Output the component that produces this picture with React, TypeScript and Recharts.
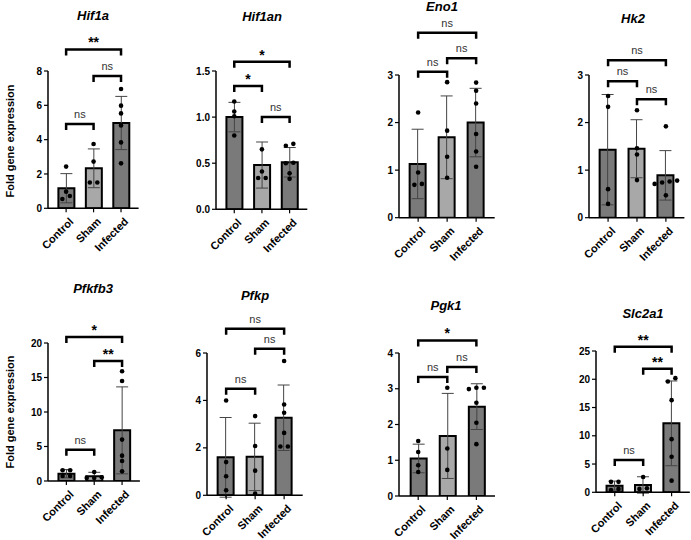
import React from "react";
import { Bar, Cell, ComposedChart, ErrorBar, ReferenceLine, Scatter, XAxis, YAxis } from "recharts";

const GROUPS = ["Control", "Sham", "Infected"];
const GENES = ["Hif1a", "Hif1an", "Eno1", "Hk2", "Pfkfb3", "Pfkp", "Pgk1", "Slc2a1"];

// mean per group (Control, Sham, Infected)
const MEANS = [
  [1.17, 2.33, 4.97],
  [1.0, 0.48, 0.51],
  [1.13, 1.69, 2.0],
  [1.43, 1.45, 0.89],
  [1.06, 0.68, 7.34],
  [1.6, 1.62, 3.27],
  [1.05, 1.68, 2.5],
  [1.18, 1.3, 12.2],
];

// standard deviation per group
const SDS = [
  [0.85, 1.13, 1.55],
  [0.16, 0.25, 0.16],
  [0.73, 0.87, 0.72],
  [1.16, 0.61, 0.52],
  [0.6, 0.58, 6.3],
  [1.68, 1.42, 1.38],
  [0.4, 1.19, 0.64],
  [0.8, 1.45, 7.5],
];

// individual samples
const POINTS = [
  [[2.43, 0.97, 0.72, 0.54], [3.75, 2.72, 1.5, 1.5], [6.95, 5.98, 5.53, 4.83, 3.84, 2.62]],
  [[1.17, 1.06, 1.01, 0.8], [0.65, 0.41, 0.34, 0.34], [0.71, 0.69, 0.505, 0.5, 0.39, 0.33]],
  [[2.21, 0.95, 0.71, 0.69], [2.85, 1.83, 1.28, 0.84], [2.84, 2.67, 2.4, 1.76, 1.39, 1.07]],
  [[2.56, 2.33, 0.6, 0.29], [2.26, 1.46, 1.33, 0.79], [1.92, 0.78, 0.76, 0.74, 0.71, 0.47]],
  [[1.55, 1.55, 0.72, 0.72], [1.3, 0.55, 0.45, 0.45], [15.9, 14.5, 6.0, 3.67, 2.9, 1.4]],
  [[4.0, 1.4, 0.8, 0.21], [3.34, 2.08, 1.04, 0.07], [5.66, 3.83, 3.48, 2.63, 2.06, 2.06]],
  [[1.54, 1.23, 0.86, 0.67], [3.03, 1.33, 0.73], [3.03, 3.03, 2.99, 2.61, 2.05, 1.45]],
  [[1.85, 1.85, 0.6, 0.4], [2.7, 0.7, 0.6], [20.2, 19.6, 16.3, 9.4, 6.3, 2.06]],
];

// significance brackets: [from group, to group, height, label]
const BRACKETS: [number, number, number, string][][] = [
  [[0, 2, 9.26, "**"], [1, 2, 7.71, "ns"], [0, 1, 4.91, "ns"]],
  [[0, 2, 1.6, "*"], [0, 1, 1.336, "*"], [1, 2, 1.0, "ns"]],
  [[0, 2, 3.89, "ns"], [1, 2, 3.35, "ns"], [0, 1, 3.07, "ns"]],
  [[0, 2, 3.31, "ns"], [0, 1, 2.87, "ns"], [1, 2, 2.49, "ns"]],
  [[0, 2, 20.87, "*"], [1, 2, 17.39, "**"], [0, 1, 4.54, "ns"]],
  [[0, 2, 7.02, "ns"], [1, 2, 6.18, "ns"], [0, 1, 4.49, "ns"]],
  [[0, 2, 4.35, "*"], [1, 2, 3.61, "ns"], [0, 1, 3.33, "ns"]],
  [[0, 2, 25.77, "**"], [1, 2, 21.87, "**"], [0, 1, 5.72, "ns"]],
];

const Y_TICKS = [
  [0, 2, 4, 6, 8],
  [0, 0.5, 1, 1.5],
  [0, 1, 2, 3],
  [0, 1, 2, 3],
  [0, 5, 10, 15, 20],
  [0, 2, 4, 6],
  [0, 1, 2, 3, 4],
  [0, 5, 10, 15, 20, 25],
];

// page placement of each panel's plot area
const LAYOUT = [
  { axisX: 47.7, yTop: 71, yBot: 208.3, end: 138.3, titleX: 93, titleY: 15 },
  { axisX: 215.7, yTop: 71, yBot: 209.3, end: 307, titleX: 262, titleY: 16 },
  { axisX: 399, yTop: 75, yBot: 217.7, end: 494.7, titleX: 442, titleY: 6 },
  { axisX: 589, yTop: 75, yBot: 217.7, end: 684.4, titleX: 633, titleY: 18 },
  { axisX: 47.7, yTop: 342.7, yBot: 480.7, end: 139.6, titleX: 93, titleY: 288 },
  { axisX: 206.7, yTop: 352.7, yBot: 495, end: 302.4, titleX: 255, titleY: 295 },
  { axisX: 399, yTop: 352.7, yBot: 495.7, end: 495, titleX: 446, titleY: 305 },
  { axisX: 595.7, yTop: 351, yBot: 492.3, end: 689.5, titleX: 643, titleY: 313 },
];

const BAR_COLORS = ["#7a7a7a", "#a8a8a8", "#7a7a7a"];
const X_DOMAIN: [number, number] = [-0.66, 2.64];
const FONT = "'Liberation Sans', Arial, sans-serif";
const YW = 30;
const MT = 70;
const MR = 4;
const XH = 56;

// simple beeswarm: samples closer than rowTol px share a row and spread sideways
function swarm(values: number[], unitY: number, gap = 7.5, rowTol = 4.5) {
  const sorted = [...values].sort((a, b) => a - b);
  const rows: number[][] = [];
  for (const v of sorted) {
    const row = rows[rows.length - 1];
    if (row && (v - row[0]) * unitY < rowTol) row.push(v);
    else rows.push([v]);
  }
  return rows.flatMap((row) => row.map((v, i) => ({ v, off: (i - (row.length - 1) / 2) * gap })));
}

function CatTick(props: any) {
  const { x, y, payload } = props;
  const tx = x + 8;
  const ty = y + 8;
  return (
    <text
      x={tx}
      y={ty}
      transform={`rotate(-45, ${tx}, ${ty})`}
      textAnchor="end"
      fontFamily={FONT}
      fontSize={11}
      fontWeight={700}
      fill="#000"
    >
      {GROUPS[payload.value]}
    </text>
  );
}

function Dot(props: any) {
  return <circle cx={props.cx} cy={props.cy} r={2.3} fill="#000" />;
}

function Bracket(props: any) {
  const { x1, y1, x2, y2 } = props;
  return (
    <path
      d={`M${x1},${y1 + 6}V${y1}H${x2}V${y2 + 6}`}
      fill="none"
      stroke="#000"
      strokeWidth={2.5}
    />
  );
}

function GenePanel({ idx }: { idx: number }) {
  const L = LAYOUT[idx];
  const plotW = L.end - L.axisX;
  const plotH = L.yBot - L.yTop;
  const ticks = Y_TICKS[idx];
  const yMax = ticks[ticks.length - 1];
  const unitX = plotW / (X_DOMAIN[1] - X_DOMAIN[0]);
  const unitY = plotH / yMax;
  const decimals = ticks.some((t) => !Number.isInteger(t)) ? 1 : 0;

  const bars = GROUPS.map((g, i) => ({ x: i, group: g, mean: MEANS[idx][i], sd: SDS[idx][i] }));
  const dots = GROUPS.flatMap((g, i) =>
    swarm(POINTS[idx][i], unitY).map((d) => ({ px: i + d.off / unitX, y: d.v })),
  );

  return (
    <div style={{ position: "absolute", left: L.axisX - YW, top: L.yTop - MT }}>
      <ComposedChart
        width={YW + plotW + MR}
        height={MT + plotH + XH}
        data={bars}
        margin={{ top: MT, right: MR, bottom: 0, left: 0 }}
      >
        <XAxis
          dataKey="x"
          type="number"
          domain={X_DOMAIN}
          ticks={[0, 1, 2]}
          allowDataOverflow
          height={XH}
          tickSize={4}
          tick={<CatTick />}
          axisLine={{ stroke: "#000", strokeWidth: 1.5 }}
          tickLine={{ stroke: "#000", strokeWidth: 1.2 }}
        />
        <XAxis xAxisId="pts" dataKey="px" type="number" domain={X_DOMAIN} allowDataOverflow hide />
        <YAxis
          type="number"
          domain={[0, yMax]}
          ticks={ticks}
          allowDataOverflow
          width={YW}
          tickSize={4}
          tickFormatter={(v: number) => v.toFixed(decimals)}
          tick={{ fill: "#000", fontSize: 10, fontWeight: 700, fontFamily: FONT }}
          axisLine={{ stroke: "#000", strokeWidth: 1.5 }}
          tickLine={{ stroke: "#000", strokeWidth: 1.2 }}
        />
        <Bar dataKey="mean" barSize={16} stroke="#000" strokeWidth={2} isAnimationActive={false}>
          {bars.map((b, i) => (
            <Cell key={b.group} fill={BAR_COLORS[i]} />
          ))}
          <ErrorBar dataKey="sd" direction="y" width={6} stroke="#444" strokeWidth={1} />
        </Bar>
        <Scatter xAxisId="pts" data={dots} dataKey="y" shape={<Dot />} isAnimationActive={false} />
        {BRACKETS[idx].map(([a, b, h, txt]) => {
          const star = txt !== "ns";
          return (
            <ReferenceLine
              key={`${a}-${b}`}
              segment={[{ x: a, y: h }, { x: b, y: h }]}
              ifOverflow="visible"
              shape={<Bracket />}
              label={{
                value: txt,
                position: "top",
                offset: star ? 2 : 6,
                fill: star ? "#000" : "#333",
                fontSize: star ? 14 : 11,
                fontWeight: star ? 700 : 400,
                fontFamily: FONT,
              }}
            />
          );
        })}
      </ComposedChart>
    </div>
  );
}

export default function App() {
  return (
    <div
      style={{
        position: "absolute",
        left: 0,
        top: 0,
        width: 691,
        height: 540,
        background: "#fff",
        fontFamily: FONT,
        overflow: "hidden",
      }}
    >
      {GENES.map((g, i) => (
        <GenePanel key={g} idx={i} />
      ))}
      {GENES.map((g, i) => (
        <div
          key={`t-${g}`}
          style={{
            position: "absolute",
            left: LAYOUT[i].titleX,
            top: LAYOUT[i].titleY,
            transform: "translate(-50%, -50%)",
            fontSize: 13,
            fontWeight: 700,
            fontStyle: "italic",
            whiteSpace: "nowrap",
          }}
        >
          {g}
        </div>
      ))}
      {[140.5, 411.5].map((cy) => (
        <div
          key={cy}
          style={{
            position: "absolute",
            left: 10,
            top: cy,
            transform: "translate(-50%, -50%) rotate(-90deg)",
            fontSize: 11,
            fontWeight: 700,
            whiteSpace: "nowrap",
          }}
        >
          Fold gene expression
        </div>
      ))}
    </div>
  );
}
